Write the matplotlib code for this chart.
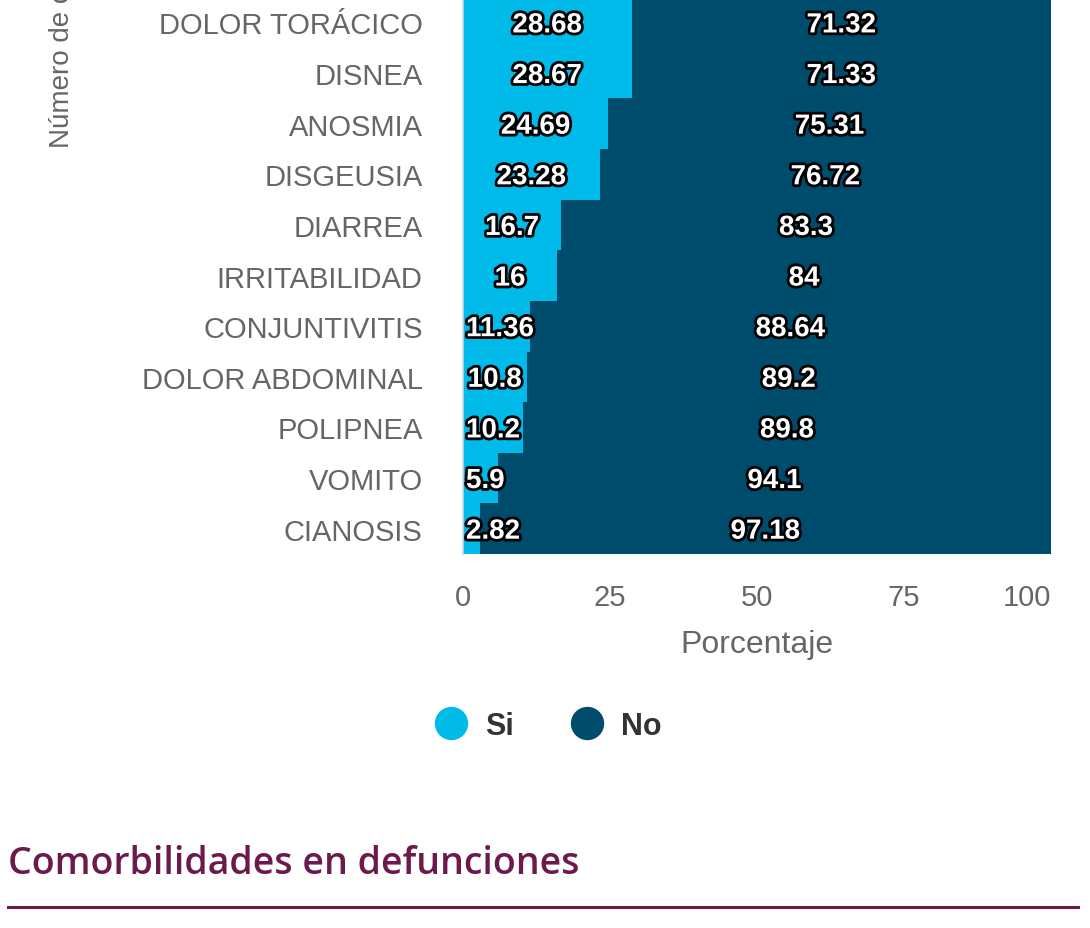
import matplotlib
matplotlib.use("Agg")
import matplotlib.pyplot as plt
import matplotlib.patheffects as pe
from matplotlib.lines import Line2D

categories = ["DOLOR TORÁCICO", "DISNEA", "ANOSMIA", "DISGEUSIA", "DIARREA",
              "IRRITABILIDAD", "CONJUNTIVITIS", "DOLOR ABDOMINAL", "POLIPNEA",
              "VOMITO", "CIANOSIS"]
si_values = [28.68, 28.67, 24.69, 23.28, 16.7, 16, 11.36, 10.8, 10.2, 5.9, 2.82]
no_values = [71.32, 71.33, 75.31, 76.72, 83.3, 84, 88.64, 89.2, 89.8, 94.1, 97.18]
x_ticks = [0, 25, 50, 75, 100]
series_names = ["Si", "No"]

SI_COLOR = "#00BBEA"
NO_COLOR = "#004C6D"
GRAY = "#666666"
MAROON = "#6B1A4B"

W, H = 1090, 929
fig = plt.figure(figsize=(W / 100, H / 100), dpi=100)
ax = fig.add_axes([463 / W, 1 - 555 / H, (1051 - 463) / W, 555 / H + 0.002])

n = len(categories)
ypos = list(range(n - 1, -1, -1))  # top category highest
ax.barh(ypos, si_values, height=1.0, color=SI_COLOR, linewidth=0)
ax.barh(ypos, no_values, left=si_values, height=1.0, color=NO_COLOR, linewidth=0)

ax.set_xlim(0, 100)
ax.set_ylim(-0.5, n - 0.5)
ax.set_yticks(ypos)
ax.set_yticklabels(categories, fontsize=21, color=GRAY, family="Liberation Sans")
ax.set_xticks(x_ticks)
ax.set_xticklabels([str(t) for t in x_ticks], fontsize=21, color=GRAY, family="Liberation Sans")
ax.get_xticklabels()[-1].set_ha("right")
ax.tick_params(axis="y", length=0, pad=29)
ax.tick_params(axis="x", length=0, pad=21)
ax.set_xlabel("Porcentaje", fontsize=23, color=GRAY, family="Liberation Sans", labelpad=13)
for s in ["top", "right", "bottom"]:
    ax.spines[s].set_visible(False)
ax.spines["left"].set_color("#ccd6eb")
ax.spines["left"].set_linewidth(1.2)

outline = [pe.withStroke(linewidth=4, foreground="black")]
texts = []
for y, s, no in zip(ypos, si_values, no_values):
    t1 = ax.text(s / 2, y, f"{s:g}", ha="center", va="center_baseline", fontsize=20,
                 fontweight="bold", color="white", family="Liberation Sans",
                 path_effects=outline)
    ax.text(s + no / 2, y, f"{no:g}", ha="center", va="center_baseline", fontsize=20,
            fontweight="bold", color="white", family="Liberation Sans",
            path_effects=outline)
    texts.append(t1)

fig.canvas.draw()
renderer = fig.canvas.get_renderer()
ax_left_px = ax.get_window_extent(renderer).x0
for t in texts:
    bb = t.get_window_extent(renderer)
    if bb.x0 < ax_left_px + 3:
        t.set_ha("left")
        x_data = ax.transData.inverted().transform((ax_left_px + 3, 0))[0]
        t.set_x(x_data)

fig.text(62 / W, 1 - 148 / H, "Número de casos", rotation=90, ha="center", va="bottom",
         fontsize=20, color=GRAY, family="Liberation Sans")

handles = [Line2D([], [], marker="o", linestyle="none", markersize=23,
                  markerfacecolor=c, markeredgecolor=c) for c in (SI_COLOR, NO_COLOR)]
leg = fig.legend(handles, series_names, loc="center", bbox_to_anchor=(541 / W, 1 - 727 / H),
                 ncol=2, frameon=False, handletextpad=0.1, columnspacing=1.4,
                 prop={"family": "Liberation Sans", "weight": "bold", "size": 22})
for t in leg.get_texts():
    t.set_color("#333333")

fig.text(8 / W, 1 - 864 / H, "Comorbilidades en defunciones", ha="left", va="center",
         fontsize=27, color=MAROON, family="Open Sans", fontweight="semibold")
fig.add_artist(Line2D([8 / W, 1078 / W], [1 - 908 / H, 1 - 908 / H], color=MAROON,
                      linewidth=2.2, transform=fig.transFigure))

fig.savefig("out.png", dpi=100)
